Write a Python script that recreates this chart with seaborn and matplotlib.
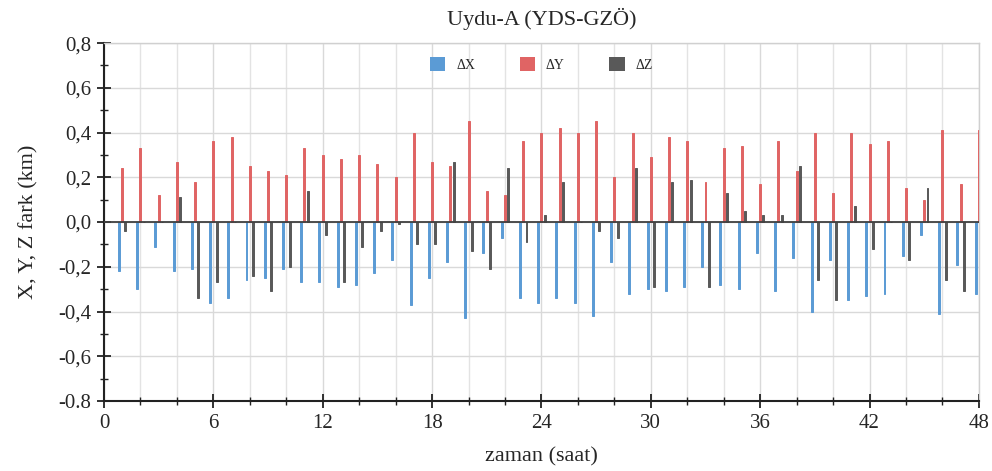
import numpy as np
import pandas as pd
import matplotlib
matplotlib.use("Agg")
import matplotlib.pyplot as plt
from matplotlib.ticker import FixedLocator, FixedFormatter, MultipleLocator
from matplotlib.patches import Patch
import seaborn as sns

hours = list(range(1, 49))
dX = [-0.22, -0.30, -0.11, -0.22, -0.21, -0.36, -0.34, -0.26, -0.25, -0.21,
      -0.27, -0.27, -0.29, -0.28, -0.23, -0.17, -0.37, -0.25, -0.18, -0.43,
      -0.14, -0.07, -0.34, -0.36, -0.34, -0.36, -0.42, -0.18, -0.32, -0.30,
      -0.31, -0.29, -0.20, -0.28, -0.30, -0.14, -0.31, -0.16, -0.40, -0.17,
      -0.35, -0.33, -0.32, -0.15, -0.06, -0.41, -0.19, -0.32]
dY = [0.24, 0.33, 0.12, 0.27, 0.18, 0.36, 0.38, 0.25, 0.23, 0.21,
      0.33, 0.30, 0.28, 0.30, 0.26, 0.20, 0.40, 0.27, 0.25, 0.45,
      0.14, 0.12, 0.36, 0.40, 0.42, 0.40, 0.45, 0.20, 0.40, 0.29,
      0.38, 0.36, 0.18, 0.33, 0.34, 0.17, 0.36, 0.23, 0.40, 0.13,
      0.40, 0.35, 0.36, 0.15, 0.10, 0.41, 0.17, 0.41]
dZ = [-0.04, 0.00, 0.00, 0.11, -0.34, -0.27, 0.00, -0.24, -0.31, -0.20,
      0.14, -0.06, -0.27, -0.11, -0.04, -0.01, -0.10, -0.10, 0.27, -0.13,
      -0.21, 0.24, -0.09, 0.03, 0.18, 0.00, -0.04, -0.07, 0.24, -0.29,
      0.18, 0.19, -0.29, 0.13, 0.05, 0.03, 0.03, 0.25, -0.26, -0.35,
      0.07, -0.12, 0.00, -0.17, 0.15, -0.26, -0.31, 0.00]
series_names = ["ΔX", "ΔY", "ΔZ"]
colors = ["#5B9BD5", "#E06464", "#595959"]
y_ticks = [0.8, 0.6, 0.4, 0.2, 0.0, -0.2, -0.4, -0.6, -0.8]
y_tick_labels = ["0,8", "0,6", "0,4", "0,2", "0,0", "-0,2", "-0,4", "-0,6", "-0.8"]
x_ticks = [0, 6, 12, 18, 24, 30, 36, 42, 48]

df = pd.DataFrame({
    "saat": hours * 3,
    "fark": dX + dY + dZ,
    "bilesen": [series_names[0]] * 48 + [series_names[1]] * 48 + [series_names[2]] * 48,
})

sns.set_style("white")
plt.rcParams["font.family"] = ["Liberation Serif", "DejaVu Serif"]

fig = plt.figure(figsize=(9.92, 4.71), dpi=100)
ax = fig.add_axes([0.1048, 0.1486, 0.882, 0.760])

sns.barplot(data=df, x="saat", y="fark", hue="bilesen", hue_order=series_names,
            palette=colors, native_scale=True, width=0.54, gap=0.4,
            saturation=1, errorbar=None, legend=False, ax=ax, zorder=3)
for p in ax.patches:
    p.set_edgecolor(p.get_facecolor())
    p.set_linewidth(0.7)

ax.set_xlim(0, 48)
ax.set_ylim(-0.8, 0.8)
ax.xaxis.set_major_locator(FixedLocator(x_ticks))
ax.set_xticklabels([str(v) for v in x_ticks])
ax.xaxis.set_minor_locator(MultipleLocator(2))
ax.yaxis.set_major_locator(FixedLocator(y_ticks))
ax.yaxis.set_major_formatter(FixedFormatter(y_tick_labels))
ax.yaxis.set_minor_locator(MultipleLocator(0.1))

ax.grid(True, which="major", axis="y", color="#d9d9d9", lw=1.0, zorder=0)
ax.grid(True, which="minor", axis="x", color="#e3e3e3", lw=1.0, zorder=0)
ax.grid(True, which="major", axis="x", color="#d9d9d9", lw=1.0, zorder=0)
ax.set_axisbelow(True)
ax.axhline(0, color="#404040", lw=1.3, zorder=4)

for s in ["top", "right"]:
    ax.spines[s].set_color("#d0d0d0")
    ax.spines[s].set_linewidth(1.0)
for s in ["left", "bottom"]:
    ax.spines[s].set_color("#222222")
    ax.spines[s].set_linewidth(1.5)

ax.tick_params(axis="both", which="major", direction="inout", length=10, width=1.3,
               color="#222222", labelsize=15, pad=4)
ax.tick_params(axis="both", which="minor", direction="inout", length=6, width=1.0,
               color="#222222")
ax.tick_params(axis="x", which="both", bottom=True)
ax.tick_params(axis="y", which="both", left=True)

ax.set_title("Uydu-A (YDS-GZÖ)", fontsize=16, pad=13)
ax.set_xlabel("zaman (saat)", fontsize=16)
ax.set_ylabel("X, Y, Z fark (km)", fontsize=16, labelpad=14)
ax.xaxis.set_label_coords(0.5, -0.13)

handles = [Patch(facecolor=c, edgecolor="none") for c in colors]
ax.legend(handles, series_names, loc="upper center", bbox_to_anchor=(0.5, 0.995),
          ncol=3, frameon=False, fontsize=10, handlelength=1.1, handleheight=1.1,
          columnspacing=3.2, handletextpad=0.8)

fig.savefig("out.png", dpi=100)
